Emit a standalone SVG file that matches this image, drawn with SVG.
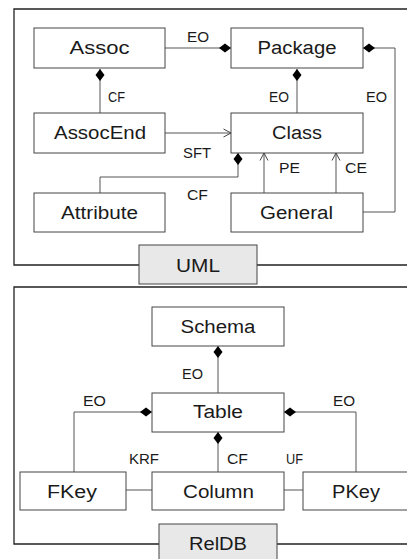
<svg xmlns="http://www.w3.org/2000/svg" width="407" height="559" viewBox="0 0 407 559">
<style>
.frame{fill:none;stroke:#222;stroke-width:1.3}
.node rect{fill:#fff;stroke:#444;stroke-width:1}
.tag rect{fill:#e8e8e8;stroke:#444;stroke-width:1}
.nt{font-family:"Liberation Sans",Arial,sans-serif;font-size:18px;fill:#1a1a1a;text-anchor:middle}
.lt{font-family:"Liberation Sans",Arial,sans-serif;font-size:14px;fill:#1a1a1a;text-anchor:middle}
.c{fill:none;stroke:#555;stroke-width:1}
.dm{marker-end:url(#dia)}
.ar{marker-end:url(#arr)}
</style>
<defs>
<marker id="dia" markerUnits="userSpaceOnUse" markerWidth="12" markerHeight="9" refX="12" refY="4.5" orient="auto" overflow="visible">
<path d="M0,4.5 L6,0 L12,4.5 L6,9 Z" fill="#000"/>
</marker>
<marker id="arr" markerUnits="userSpaceOnUse" markerWidth="8" markerHeight="9" refX="7.5" refY="4" orient="auto" overflow="visible">
<path d="M0,0 L7.5,4 L0,8" fill="none" stroke="#444" stroke-width="1"/>
</marker>
</defs>
<rect width="407" height="559" fill="#fff"/>
<path class="frame" d="M420,9 H14 V265 H420"/>
<path class="frame" d="M420,287 H14 V544 H420"/>
<g id="connectors">
<path class="c dm" d="M165,48 H231"/>
<path class="c dm" d="M100,113 V69"/>
<path class="c dm" d="M297,113 V69"/>
<path class="c dm" d="M363,212 H395 V48 H363"/>
<path class="c ar" d="M165,133 H231"/>
<path class="c dm" d="M100,193 V177 H238 V153"/>
<path class="c ar" d="M264,193 V153"/>
<path class="c ar" d="M336,193 V153"/>
<path class="c dm" d="M218,393 V346"/>
<path class="c dm" d="M74,472 V412 H152"/>
<path class="c dm" d="M356,472 V412 H284"/>
<path class="c dm" d="M218,472 V432"/>
<path class="c" d="M126,490 H152"/>
<path class="c" d="M284,490 H303"/>
<text class="lt" x="198" y="42" textLength="22" lengthAdjust="spacingAndGlyphs">EO</text>
<text class="lt" x="116.5" y="102" textLength="17" lengthAdjust="spacingAndGlyphs">CF</text>
<text class="lt" x="279" y="102" textLength="20" lengthAdjust="spacingAndGlyphs">EO</text>
<text class="lt" x="376.5" y="102" textLength="21" lengthAdjust="spacingAndGlyphs">EO</text>
<text class="lt" x="197" y="158" textLength="28" lengthAdjust="spacingAndGlyphs">SFT</text>
<text class="lt" x="289.5" y="173" textLength="21" lengthAdjust="spacingAndGlyphs">PE</text>
<text class="lt" x="356" y="173" textLength="22" lengthAdjust="spacingAndGlyphs">CE</text>
<text class="lt" x="197.5" y="200" textLength="21" lengthAdjust="spacingAndGlyphs">CF</text>
<text class="lt" x="192.5" y="379" textLength="21" lengthAdjust="spacingAndGlyphs">EO</text>
<text class="lt" x="94.5" y="406" textLength="23" lengthAdjust="spacingAndGlyphs">EO</text>
<text class="lt" x="344" y="406" textLength="22" lengthAdjust="spacingAndGlyphs">EO</text>
<text class="lt" x="144" y="464" textLength="30" lengthAdjust="spacingAndGlyphs">KRF</text>
<text class="lt" x="237.5" y="464" textLength="21" lengthAdjust="spacingAndGlyphs">CF</text>
<text class="lt" x="294.5" y="464" textLength="17" lengthAdjust="spacingAndGlyphs">UF</text>
</g>
<g id="assoc" class="node"><rect x="34" y="28" width="131" height="40"/><text class="nt" x="99.5" y="54" textLength="60" lengthAdjust="spacingAndGlyphs">Assoc</text></g>
<g id="package" class="node"><rect x="231" y="28" width="132" height="40"/><text class="nt" x="297" y="54" textLength="79" lengthAdjust="spacingAndGlyphs">Package</text></g>
<g id="assocend" class="node"><rect x="34" y="113" width="131" height="40"/><text class="nt" x="100" y="139" textLength="92" lengthAdjust="spacingAndGlyphs">AssocEnd</text></g>
<g id="class" class="node"><rect x="231" y="113" width="132" height="40"/><text class="nt" x="297" y="139" textLength="50" lengthAdjust="spacingAndGlyphs">Class</text></g>
<g id="attribute" class="node"><rect x="34" y="193" width="131" height="39"/><text class="nt" x="99.5" y="219" textLength="77" lengthAdjust="spacingAndGlyphs">Attribute</text></g>
<g id="general" class="node"><rect x="231" y="193" width="132" height="39"/><text class="nt" x="296.5" y="219" textLength="73" lengthAdjust="spacingAndGlyphs">General</text></g>
<g id="uml" class="tag"><rect x="139" y="245" width="118" height="39"/><text class="nt" x="198" y="272" textLength="44" lengthAdjust="spacingAndGlyphs">UML</text></g>
<g id="schema" class="node"><rect x="152" y="307" width="132" height="39"/><text class="nt" x="218" y="333" textLength="75" lengthAdjust="spacingAndGlyphs">Schema</text></g>
<g id="table" class="node"><rect x="152" y="393" width="132" height="39"/><text class="nt" x="218" y="418" textLength="50" lengthAdjust="spacingAndGlyphs">Table</text></g>
<g id="fkey" class="node"><rect x="20" y="472" width="106" height="38"/><text class="nt" x="72" y="498" textLength="50" lengthAdjust="spacingAndGlyphs">FKey</text></g>
<g id="column" class="node"><rect x="152" y="472" width="132" height="38"/><text class="nt" x="218.5" y="498" textLength="71" lengthAdjust="spacingAndGlyphs">Column</text></g>
<g id="pkey" class="node"><rect x="303" y="472" width="110" height="38"/><text class="nt" x="356" y="498" textLength="48" lengthAdjust="spacingAndGlyphs">PKey</text></g>
<g id="reldb" class="tag"><rect x="159" y="524" width="118" height="40"/><text class="nt" x="218" y="550" textLength="58" lengthAdjust="spacingAndGlyphs">RelDB</text></g>
</svg>
